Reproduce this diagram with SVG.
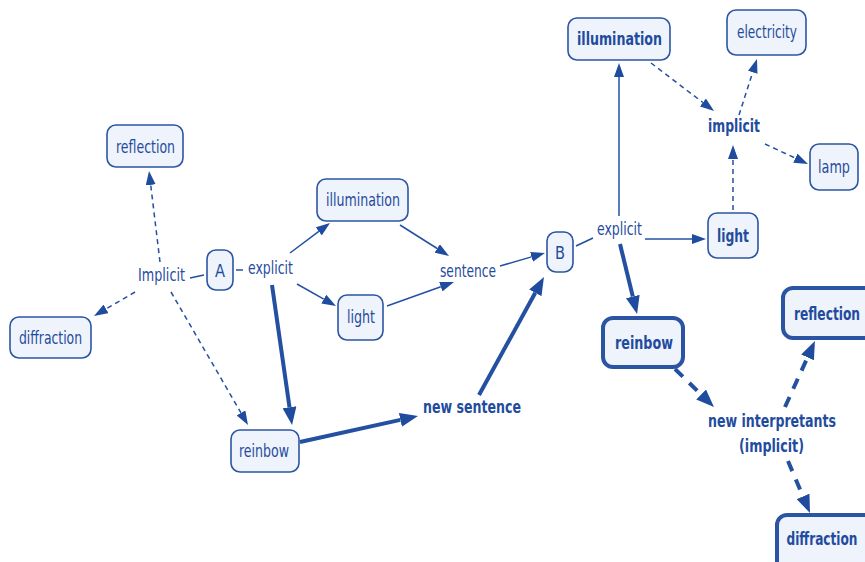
<svg xmlns="http://www.w3.org/2000/svg" width="865" height="562" viewBox="0 0 865 562">
<style>
.n rect{fill:#eff3fb;stroke:#2b55a3;stroke-width:1.6}
.n.k rect{stroke-width:4}
text{font-family:"DejaVu Sans Condensed","DejaVu Sans",sans-serif;font-size:17px;fill:#1f4c9e;text-anchor:middle}
.b{font-weight:bold}
.c path{fill:none;stroke:#2350a0;stroke-width:1.5}
.c .d{stroke-dasharray:5,4}
.c .t{stroke-width:4}
.c .td{stroke-width:4;stroke-dasharray:11,9}
</style>
<defs>
<marker id="ah" viewBox="0 0 14 10" refX="0" refY="5" markerWidth="14" markerHeight="10" markerUnits="userSpaceOnUse" orient="auto"><path d="M0,0 L14,5 L0,10 z" fill="#1f4c9e"/></marker>
<marker id="ahB" viewBox="0 0 18 14" refX="0" refY="7" markerWidth="18" markerHeight="14" markerUnits="userSpaceOnUse" orient="auto"><path d="M0,0 L18,7 L0,14 z" fill="#1f4c9e"/></marker>
</defs>
<g class="c" id="connectors">
<path class="d" d="M160,262 L150.7,184.9" marker-end="url(#ah)"/>
<path class="d" d="M135,292 L106.1,308.9" marker-end="url(#ah)"/>
<path class="d" d="M171,292 L241,412.9" marker-end="url(#ah)"/>
<path d="M190,278 L204,275"/>
<path d="M236,270 L243,270"/>
<path d="M290,253 L318.8,231.4" marker-end="url(#ah)"/>
<path d="M297,284 L323.8,299.1" marker-end="url(#ah)"/>
<path d="M400,225 L437.2,248.5" marker-end="url(#ah)"/>
<path d="M387,306 L440.8,286.7" marker-end="url(#ah)"/>
<path d="M500,266 L531.5,256.9" marker-end="url(#ah)"/>
<path class="t" d="M272,285 L289.5,407.2" marker-end="url(#ahB)"/>
<path class="t" d="M300,442 L400.4,419.9" marker-end="url(#ahB)"/>
<path class="t" d="M479,395 L535.3,292.8" marker-end="url(#ahB)"/>
<path d="M576,246 L593,238"/>
<path d="M619,216 L619,77" marker-end="url(#ah)"/>
<path d="M645,239 L692,239" marker-end="url(#ah)"/>
<path class="t" d="M620,244 L632.8,296.5" marker-end="url(#ahB)"/>
<path class="d" d="M651,63 L702.9,102.5" marker-end="url(#ah)"/>
<path class="d" d="M739,115 L752.7,72.3" marker-end="url(#ah)"/>
<path class="d" d="M765,144 L795.3,158.1" marker-end="url(#ah)"/>
<path class="d" d="M733,210 L733,159" marker-end="url(#ah)"/>
<path class="td" d="M675,369 L701.1,394.5" marker-end="url(#ahB)"/>
<path class="td" d="M785,407 L807.5,357.4" marker-end="url(#ahB)"/>
<path class="td" d="M788,461 L803,496.4" marker-end="url(#ahB)"/>
</g>
<g id="reflection-left" class="n"><rect x="107" y="125" width="76" height="42" rx="9"/><text x="145.5" y="153" textLength="59" lengthAdjust="spacingAndGlyphs">reflection</text></g>
<g id="diffraction-left" class="n"><rect x="10" y="317" width="81" height="41" rx="9"/><text x="50.5" y="344" textLength="63" lengthAdjust="spacingAndGlyphs">diffraction</text></g>
<g id="implicit-a"><text x="161.5" y="281" textLength="47" lengthAdjust="spacingAndGlyphs">Implicit</text></g>
<g id="A" class="n"><rect x="207" y="250" width="26" height="40" rx="9"/><text x="220" y="277" textLength="10" lengthAdjust="spacingAndGlyphs">A</text></g>
<g id="explicit-a"><text x="270.5" y="274" textLength="45" lengthAdjust="spacingAndGlyphs">explicit</text></g>
<g id="illumination-mid" class="n"><rect x="317" y="179" width="91" height="42" rx="9"/><text x="363" y="206" textLength="74" lengthAdjust="spacingAndGlyphs">illumination</text></g>
<g id="light-mid" class="n"><rect x="338" y="295" width="45" height="45" rx="9"/><text x="361" y="323" textLength="28" lengthAdjust="spacingAndGlyphs">light</text></g>
<g id="sentence"><text x="468" y="277" textLength="56" lengthAdjust="spacingAndGlyphs">sentence</text></g>
<g id="B" class="n"><rect x="547" y="232" width="26" height="40" rx="9"/><text x="560" y="259" textLength="10" lengthAdjust="spacingAndGlyphs">B</text></g>
<g id="explicit-b"><text x="619.5" y="235" textLength="45" lengthAdjust="spacingAndGlyphs">explicit</text></g>
<g id="illumination-right" class="n"><rect x="568" y="18" width="102" height="42" rx="9"/><text class="b" x="619.5" y="45" textLength="85" lengthAdjust="spacingAndGlyphs">illumination</text></g>
<g id="electricity" class="n"><rect x="727" y="10" width="79" height="45" rx="9"/><text x="767" y="38" textLength="60" lengthAdjust="spacingAndGlyphs">electricity</text></g>
<g id="implicit-b"><text class="b" x="734" y="132" textLength="52" lengthAdjust="spacingAndGlyphs">implicit</text></g>
<g id="lamp" class="n"><rect x="810" y="144" width="48" height="46" rx="9"/><text x="834" y="173" textLength="32" lengthAdjust="spacingAndGlyphs">lamp</text></g>
<g id="light-right" class="n"><rect x="708" y="213" width="50" height="45" rx="9"/><text class="b" x="733" y="242" textLength="32" lengthAdjust="spacingAndGlyphs">light</text></g>
<g id="reinbow-right" class="n k"><rect x="603" y="318" width="80" height="49" rx="10"/><text class="b" x="644" y="349" textLength="58" lengthAdjust="spacingAndGlyphs">reinbow</text></g>
<g id="reflection-right" class="n k"><rect x="783" y="288" width="100" height="50" rx="10"/><text class="b" x="827" y="320" textLength="66" lengthAdjust="spacingAndGlyphs">reflection</text></g>
<g id="new-interpretants"><text class="b" x="772" y="427" textLength="128" lengthAdjust="spacingAndGlyphs">new interpretants</text><text class="b" x="771.5" y="452" textLength="65" lengthAdjust="spacingAndGlyphs">(implicit)</text></g>
<g id="diffraction-right" class="n k"><rect x="777" y="515" width="110" height="60" rx="10"/><text class="b" x="822" y="545" textLength="71" lengthAdjust="spacingAndGlyphs">diffraction</text></g>
<g id="reinbow-left" class="n"><rect x="231" y="430" width="68" height="42" rx="9"/><text x="264" y="457" textLength="50" lengthAdjust="spacingAndGlyphs">reinbow</text></g>
<g id="new-sentence"><text class="b" x="472" y="413" textLength="98" lengthAdjust="spacingAndGlyphs">new sentence</text></g>
</svg>
